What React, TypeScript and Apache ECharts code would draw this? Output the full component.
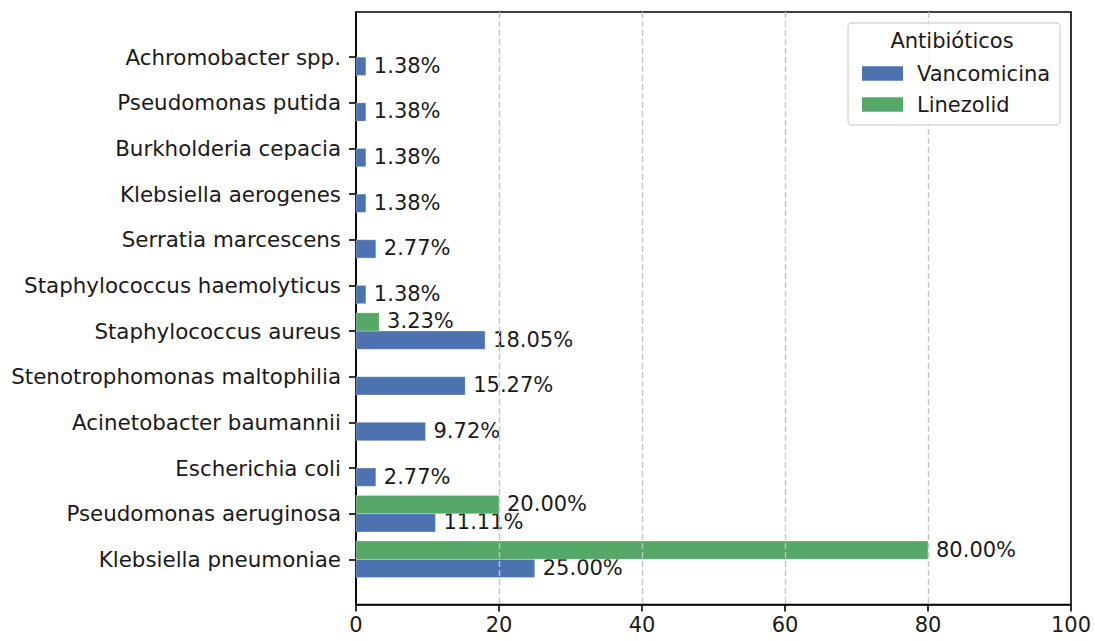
import React, { useEffect, useRef } from 'react';
import * as echarts from 'echarts';

const categories = [
  'Klebsiella pneumoniae',
  'Pseudomonas aeruginosa',
  'Escherichia coli',
  'Acinetobacter baumannii',
  'Stenotrophomonas maltophilia',
  'Staphylococcus aureus',
  'Staphylococcus haemolyticus',
  'Serratia marcescens',
  'Klebsiella aerogenes',
  'Burkholderia cepacia',
  'Pseudomonas putida',
  'Achromobacter spp.',
];
const vancomicina: (number | null)[] = [25.0, 11.11, 2.77, 9.72, 15.27, 18.05, 1.38, 2.77, 1.38, 1.38, 1.38, 1.38];
const linezolid: (number | null)[] = [80.0, 20.0, null, null, null, 3.23, null, null, null, null, null, null];
const xTicks = [0, 20, 40, 60, 80, 100];

const FONT = 'DejaVu Sans';
const FS = 21;
const FS_Y = 21.4;
const BLUE = '#4c72b0';
const GREEN = '#55a868';

function makeSeries(name: string, values: (number | null)[], color: string, offset: number) {
  const data = values
    .map((v, i) => (v == null ? null : [v, i]))
    .filter((d) => d !== null);
  return {
    type: 'custom',
    name,
    itemStyle: { color },
    encode: { x: 0, y: 1 },
    data,
    z: 2,
    renderItem: (params: any, api: any) => {
      const v = api.value(0) as number;
      const y = (api.value(1) as number) + offset;
      const start = api.coord([0, y]);
      const end = api.coord([v, y]);
      const h = api.size([0, 0.4])[1];
      return {
        type: 'group',
        children: [
          {
            type: 'rect',
            shape: { x: start[0], y: start[1] - h / 2, width: end[0] - start[0], height: h },
            style: { fill: color, stroke: 'rgba(255,255,255,0.35)', lineWidth: 0.8 },
          },
          {
            type: 'text',
            x: end[0] + 8,
            y: end[1] - 0.5,
            style: {
              text: v.toFixed(2) + '%',
              fill: '#1a1a1a',
              fontSize: FS,
              fontFamily: FONT,
              align: 'left',
              verticalAlign: 'middle',
            },
          },
        ],
      };
    },
  };
}

export default function App() {
  const ref = useRef<HTMLDivElement>(null);
  useEffect(() => {
    if (!ref.current) return;
    const chart = echarts.init(ref.current, null, { renderer: 'svg' });
    const catIdx = categories.map((_, i) => i);
    chart.setOption({
      animation: false,
      backgroundColor: '#ffffff',
      textStyle: { fontFamily: FONT },
      grid: {
        left: 356,
        right: 24,
        top: 12,
        bottom: 36.5,
        show: true,
        borderColor: '#000',
        borderWidth: 1.6,
        backgroundColor: 'transparent',
      },
      xAxis: {
        type: 'value',
        min: xTicks[0],
        max: xTicks[xTicks.length - 1],
        interval: 20,
        z: 10,
        axisLine: { show: true, onZero: false, lineStyle: { color: '#000', width: 1.6 } },
        axisTick: { show: true, length: 7, lineStyle: { color: '#000', width: 1.6 } },
        axisLabel: { fontSize: FS, color: '#1a1a1a', fontFamily: FONT, margin: 10 },
        splitLine: {
          show: true,
          showMinLine: false,
          showMaxLine: false,
          lineStyle: { color: '#c4c4c4', width: 1.4, type: [6, 3] },
        },
      },
      yAxis: {
        type: 'value',
        min: -0.99,
        max: 11.99,
        axisLine: { show: true, onZero: false, lineStyle: { color: '#000', width: 1.6 } },
        axisTick: { show: true, length: 7, customValues: catIdx, lineStyle: { color: '#000', width: 1.6 } },
        axisLabel: {
          customValues: catIdx,
          fontSize: FS_Y,
          color: '#1a1a1a',
          fontFamily: FONT,
          margin: 15,
          formatter: (v: number) => categories[Math.round(v)] ?? '',
        },
        splitLine: { show: false },
      },
      legend: {
        data: ['Vancomicina', 'Linezolid'],
        orient: 'vertical',
        left: 857,
        top: 58,
        itemWidth: 41,
        itemHeight: 14.5,
        itemGap: 10,
        icon: 'rect',
        selectedMode: false,
        z: 30,
        textStyle: { fontSize: FS, color: '#1a1a1a', fontFamily: FONT, padding: [0, 0, 0, 9] },
      },
      graphic: [
        {
          type: 'rect',
          z: 25,
          shape: { x: 848, y: 23, width: 212, height: 102, r: 4 },
          style: { fill: 'rgba(255,255,255,0.8)', stroke: '#d6d6d6', lineWidth: 1.4 },
        },
        {
          type: 'text',
          z: 31,
          x: 952,
          y: 41,
          style: {
            text: 'Antibióticos',
            fontSize: FS,
            fontFamily: FONT,
            fill: '#1a1a1a',
            align: 'center',
            verticalAlign: 'middle',
          },
        },
      ],
      series: [
        makeSeries('Vancomicina', vancomicina, BLUE, -0.2),
        makeSeries('Linezolid', linezolid, GREEN, 0.2),
      ],
    });
    return () => chart.dispose();
  }, []);
  return <div ref={ref} style={{ position: 'fixed', left: 0, top: 0, width: 1095, height: 641 }} />;
}
